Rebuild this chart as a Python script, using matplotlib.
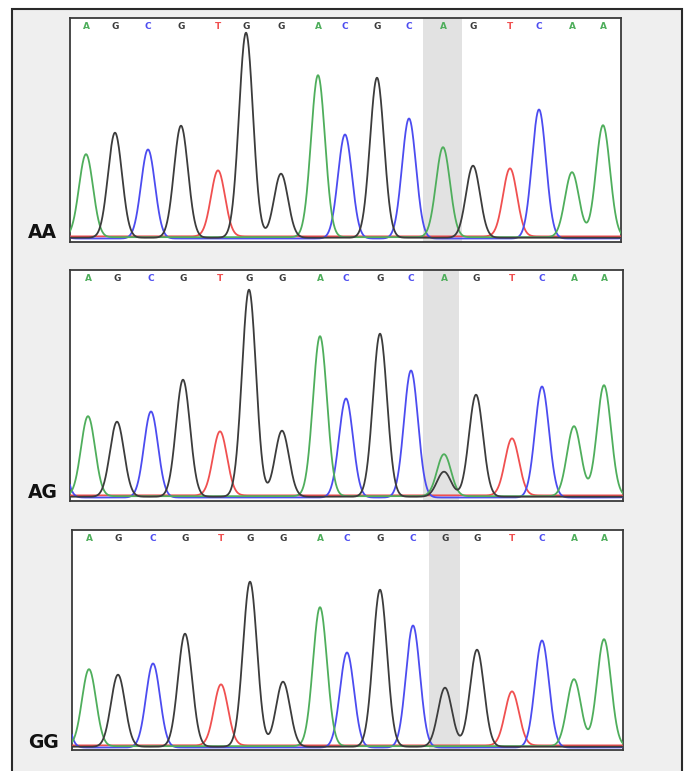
import matplotlib.pyplot as plt
from matplotlib.patches import Rectangle
import numpy as np

# base calls shown above each trace
bases = ['A', 'G', 'C', 'G', 'T', 'G', 'G', 'A', 'C', 'G', 'C', 'A', 'G', 'T', 'C', 'A', 'A']
genotypes = ['AA', 'AG', 'GG']
snp_call = ['A', 'A', 'G']  # base printed at the SNP position

# peak positions (scan units) and heights (signal)
pos_aa = [16, 45, 78, 111, 148, 176, 211, 248, 275, 307, 339, 373, 403, 440, 469, 502, 533]
hgt_aa = [83, 105, 89, 112, 66, 205, 64, 162, 104, 160, 120, 90, 72, 68, 129, 65, 112]

pos_ag = [18, 47, 81, 113, 150, 179, 212, 250, 276, 310, 341, 374, 406, 442, 472, 504, 534]
hgt_ag = [80, 75, 86, 117, 64, 207, 66, 160, 99, 163, 127, 42, 102, 57, 111, 70, 111]
# secondary (minor) G peak under the heterozygous position
minor_ag = ('G', 374, 25)

pos_gg = [17, 46, 81, 113, 149, 178, 211, 248, 275, 308, 341, 373, 405, 440, 470, 502, 532]
hgt_gg = [77, 72, 84, 113, 61, 165, 65, 139, 95, 157, 122, 59, 97, 54, 107, 67, 107]

# peaks of neighbouring bases just outside the window
edge_aa = [('C', -20, 60), ('C', 574, 90)]
edge_ag = [('C', -14, 90), ('C', 576, 80)]
edge_gg = [('C', -14, 90), ('C', 574, 80)]

snp_span = [(353, 392), (353, 389), (357, 388)]
ylims = [(-4, 220), (-4, 227), (-3, 217)]
xmax = [551, 553, 551]

colors = {'A': '#4fae5c', 'G': '#3c3c3c', 'C': '#4c4cf0', 'T': '#f05050'}
base_off = {'A': 0.8, 'G': 0.3, 'C': -0.5, 'T': 1.6}
sigma = 7.0

fig = plt.figure(figsize=(6.86, 7.71), dpi=100)
fig.patch.set_facecolor('white')
W, H = 686, 771
fig.patches.append(Rectangle((12 / W, -0.01), 670 / W, 1 - 9 / H + 0.01, transform=fig.transFigure,
                             facecolor='#efefef', edgecolor='#2a2a2a', linewidth=1.5, zorder=-10))

# axes boxes in pixels: left, top, width, height
boxes = [(70, 18, 551, 224), (70, 270, 553, 231), (72, 530, 551, 220)]
label_y = [242, 502, 752]

panels = [(pos_aa, hgt_aa, edge_aa, []), (pos_ag, hgt_ag, edge_ag, [minor_ag]),
          (pos_gg, hgt_gg, edge_gg, [])]

for i, (pos, hgt, edge, extra) in enumerate(panels):
    l, t, w, h = boxes[i]
    ax = fig.add_axes([l / W, 1 - (t + h) / H, w / W, h / H])
    ax.set_zorder(2)
    ax.set_facecolor('white')
    x = np.linspace(-5, xmax[i] + 5, 1500)
    calls = list(bases)
    calls[11] = snp_call[i]
    peaks = [(calls[k], pos[k], hgt[k]) for k in range(len(pos))] + edge + extra
    for b in ['T', 'C', 'A', 'G']:
        y = np.full_like(x, base_off[b])
        for (bb, p, hh) in peaks:
            if bb == b:
                y += hh * np.exp(-(x - p) ** 2 / (2 * sigma ** 2))
        ax.plot(x, y, color=colors[b], lw=1.3, zorder=3)
    ax.axvspan(snp_span[i][0], snp_span[i][1], color='#e2e2e2', zorder=1, lw=0)
    for k, c in enumerate(calls):
        ax.text(pos[k], 0.962, c, transform=ax.get_xaxis_transform(), color=colors[c],
                ha='center', va='center', fontsize=6.5, fontweight='bold', zorder=4)
    ax.set_xlim(0, xmax[i])
    ax.set_ylim(*ylims[i])
    ax.set_xticks([])
    ax.set_yticks([])
    for s in ax.spines.values():
        s.set_color('#3a3a3a')
        s.set_linewidth(1.3)
    fig.text(28 / W, 1 - label_y[i] / H, genotypes[i], ha='left', va='bottom',
             fontsize=13.5, fontweight='bold', color='#111111', zorder=5)

fig.savefig('out.png', dpi=100)
